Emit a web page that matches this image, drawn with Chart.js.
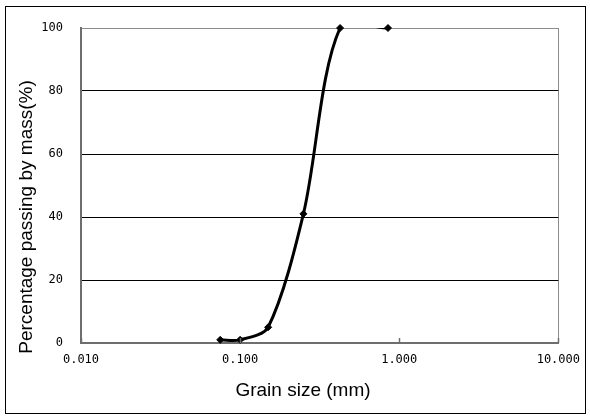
<!DOCTYPE html>
<html>
<head>
<meta charset="utf-8">
<script src="https://cdn.jsdelivr.net/npm/chart.js@4/dist/chart.umd.min.js"></script>
<style>
  html, body { margin: 0; padding: 0; background: #fff; }
  #wrap { width: 590px; height: 419px; }
</style>
</head>
<body>
<div id="wrap"><canvas id="gradation"></canvas></div>
<script>
// sieve sizes (mm) and cumulative passing (%)
const grainSize = [0.075, 0.1, 0.15, 0.25, 0.425, 0.85];
const passing = [1, 1, 5, 41, 100, 100];

const xTicks = [0.01, 0.1, 1, 10];
const yTicks = [0, 20, 40, 60, 80, 100];

const xTitle = 'Grain size (mm)';
const yTitle = 'Percentage passing by mass(%)';

const points = grainSize.map((g, i) => ({ x: g, y: passing[i] }));

// white background, outer frame, axis titles, inward tick marks
const decor = {
    id: 'decor',
    beforeDraw(chart) {
        const ctx = chart.ctx;
        ctx.save();
        ctx.fillStyle = '#fff';
        ctx.fillRect(0, 0, chart.width, chart.height);
        ctx.restore();
    },
    afterDraw(chart) {
        const ctx = chart.ctx;
        const area = chart.chartArea;
        const xs = chart.scales.x;
        ctx.save();
        ctx.strokeStyle = '#000';
        ctx.lineWidth = 1;
        ctx.strokeRect(5.5, 6.5, 580, 407);

        // small tick marks pointing into the plot
        ctx.strokeStyle = '#6e6e6e';
        ctx.lineWidth = 1.5;
        xTicks.forEach(v => {
            const px = Math.round(xs.getPixelForValue(v)) + 0.5;
            ctx.beginPath();
            ctx.moveTo(px, area.bottom);
            ctx.lineTo(px, area.bottom - 5);
            ctx.stroke();
        });

        ctx.fillStyle = '#000';
        ctx.font = '19px "Liberation Sans", Arial, sans-serif';
        ctx.textAlign = 'center';
        ctx.textBaseline = 'middle';
        ctx.fillText(xTitle, 303, 391);

        ctx.translate(27, 217);
        ctx.rotate(-Math.PI / 2);
        ctx.fillText(yTitle, 0, 0);
        ctx.restore();
    }
};

const tickFont = { family: '"DejaVu Sans Mono", monospace', size: 12 };

new Chart(document.getElementById('gradation'), {
    type: 'scatter',
    data: {
        datasets: [{
            // smoothed curve, clipped to the plot area
            data: points,
            showLine: true,
            borderColor: '#000',
            borderWidth: 3,
            tension: 0.3,
            pointRadius: 0,
            order: 2
        }, {
            // sieve points
            data: points,
            showLine: false,
            pointStyle: 'rectRot',
            pointRadius: 3.5,
            pointBackgroundColor: '#000',
            pointBorderColor: '#000',
            pointBorderWidth: 1,
            clip: false,
            order: 1
        }]
    },
    plugins: [decor],
    options: {
        responsive: true,
        maintainAspectRatio: false,
        animation: false,
        layout: { padding: { left: 0, top: 28, right: 31, bottom: 0 } },
        elements: { line: { capBezierPoints: false } },
        plugins: {
            legend: { display: false },
            tooltip: { enabled: false }
        },
        scales: {
            x: {
                type: 'logarithmic',
                min: xTicks[0],
                max: xTicks[xTicks.length - 1],
                afterBuildTicks: scale => {
                    scale.ticks = xTicks.map(v => ({ value: v, major: true }));
                },
                afterFit: scale => { scale.height = 76; },
                border: { color: '#6e6e6e', width: 2 },
                grid: {
                    drawTicks: false,
                    color: c => (c.tick && c.tick.value === 10 ? '#8c8c8c' : 'rgba(0,0,0,0)'),
                    lineWidth: 1
                },
                ticks: {
                    autoSkip: false,
                    maxRotation: 0,
                    padding: 10,
                    color: '#000',
                    font: tickFont,
                    callback: v => Number(v).toFixed(3)
                }
            },
            y: {
                min: yTicks[0],
                max: yTicks[yTicks.length - 1],
                afterBuildTicks: scale => {
                    scale.ticks = yTicks.map(v => ({ value: v }));
                },
                afterFit: scale => { scale.width = 81; },
                border: { color: '#6e6e6e', width: 2 },
                grid: {
                    drawTicks: false,
                    color: c => {
                        if (!c.tick) return 'rgba(0,0,0,0)';
                        if (c.tick.value === 0) return 'rgba(0,0,0,0)';
                        if (c.tick.value === 100) return '#8c8c8c';
                        return '#000';
                    },
                    lineWidth: 1
                },
                ticks: {
                    padding: 18,
                    color: '#000',
                    font: tickFont,
                    callback: v => String(v)
                }
            }
        }
    }
});
</script>
</body>
</html>
